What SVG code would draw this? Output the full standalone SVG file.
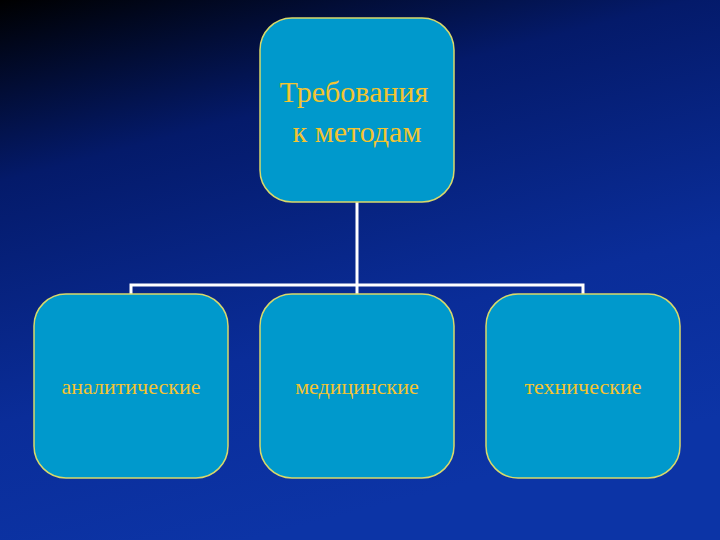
<svg xmlns="http://www.w3.org/2000/svg" width="720" height="540" viewBox="0 0 720 540">
<defs>
<linearGradient id="bg" x1="0" y1="0" x2="0.35" y2="1">
<stop offset="0" stop-color="#000000"/>
<stop offset="0.3" stop-color="#041a6a"/>
<stop offset="0.7" stop-color="#0a2d99"/>
<stop offset="1" stop-color="#0c34a6"/>
</linearGradient>
</defs>
<style>
.box{fill:#0099cc;stroke:#d9d96a;stroke-width:1.5}
.t{font-family:"Liberation Serif",serif;fill:#f4c430;text-anchor:middle}
.c{stroke:#ffffff;stroke-width:3;fill:none}
</style>
<rect width="720" height="540" fill="url(#bg)"/>
<g id="connectors">
<path class="c" d="M357 202V294M131 294V285H583V294"/>
</g>
<g id="root"><rect class="box" x="260" y="18" width="194" height="184" rx="32"/>
<text class="t" font-size="30" x="354" y="102">Требования</text>
<text class="t" font-size="30" x="357" y="142">к методам</text></g>
<g id="n1"><rect class="box" x="34" y="294" width="194" height="184" rx="32"/>
<text class="t" font-size="22" x="131" y="394">аналитические</text></g>
<g id="n2"><rect class="box" x="260" y="294" width="194" height="184" rx="32"/>
<text class="t" font-size="22" x="357" y="394">медицинские</text></g>
<g id="n3"><rect class="box" x="486" y="294" width="194" height="184" rx="32"/>
<text class="t" font-size="22" x="583" y="394">технические</text></g>
</svg>
